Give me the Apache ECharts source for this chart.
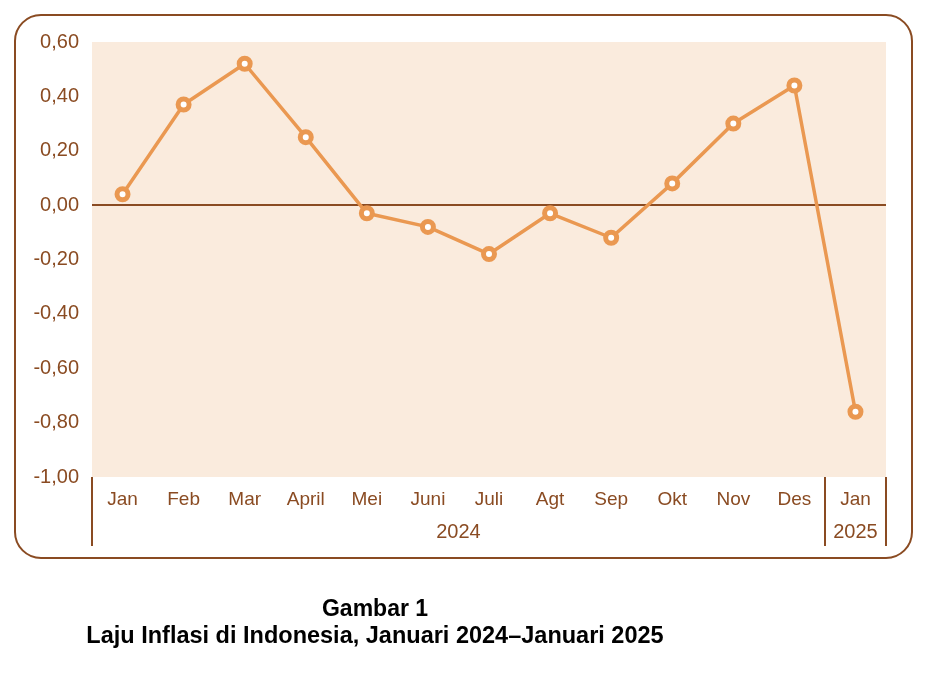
<!DOCTYPE html>
<html>
<head>
<meta charset="utf-8">
<script src="https://cdn.jsdelivr.net/npm/echarts@6/dist/echarts.min.js"></script>
<style>
html,body{margin:0;padding:0;background:#fff;}
#c{width:928px;height:674px;}
</style>
</head>
<body>
<div id="c"></div>
<script>
const categories = ['Jan','Feb','Mar','April','Mei','Juni','Juli','Agt','Sep','Okt','Nov','Des','Jan'];
const inflation = [0.04, 0.37, 0.52, 0.25, -0.03, -0.08, -0.18, -0.03, -0.12, 0.08, 0.30, 0.44, -0.76];
const yearLabels = ['2024', '2025'];
const yearCenters = [6, 12.5];
const yearBounds = [0, 12, 13];
const titleLines = ['Gambar 1', 'Laju Inflasi di Indonesia, Januari 2024\u2013Januari 2025'];

const BROWN = '#8A4B22';
const ORANGE = '#EA9851';
const font = '"Liberation Sans", Arial, sans-serif';

const chart = echarts.init(document.getElementById('c'), null, {renderer: 'canvas'});
chart.setOption({
  animation: false,
  backgroundColor: '#ffffff',
  grid: {
    left: 92, right: 42, top: 42, bottom: 197,
    show: true, backgroundColor: '#FAEBDD', borderWidth: 0
  },
  graphic: [
    {
      type: 'rect', z: -1,
      shape: {x: 15, y: 15, width: 897, height: 543, r: 26},
      style: {fill: 'none', stroke: BROWN, lineWidth: 2}
    },
    {
      type: 'text', x: 375, y: 610,
      style: {text: titleLines[0], font: 'bold 23px ' + font, fill: '#000', align: 'center', verticalAlign: 'middle'}
    },
    {
      type: 'text', x: 375, y: 637,
      style: {text: titleLines[1], font: 'bold 23.5px ' + font, fill: '#000', align: 'center', verticalAlign: 'middle'}
    }
  ],
  xAxis: [
    {
      type: 'category',
      data: categories,
      boundaryGap: true,
      axisLine: {show: false},
      axisTick: {show: false},
      splitLine: {show: false},
      axisLabel: {color: BROWN, fontSize: 19, fontFamily: font, margin: 13, interval: 0}
    },
    {
      type: 'value',
      min: 0, max: 13,
      position: 'bottom',
      axisLine: {show: false},
      splitLine: {show: false},
      axisTick: {show: true, customValues: yearBounds, length: 69, inside: false,
        lineStyle: {color: BROWN, width: 2}},
      axisLabel: {
        show: true, customValues: yearCenters, margin: 45,
        color: BROWN, fontSize: 20, fontFamily: font,
        formatter: function (v) { return v < 12 ? yearLabels[0] : yearLabels[1]; }
      }
    }
  ],
  yAxis: {
    type: 'value',
    min: -1, max: 0.6, interval: 0.2,
    axisLine: {show: false},
    axisTick: {show: false},
    splitLine: {show: false},
    axisLabel: {
      color: BROWN, fontSize: 20, fontFamily: font, margin: 13,
      formatter: function (v) { return v.toFixed(2).replace('.', ','); }
    }
  },
  series: [
    {
      type: 'line',
      data: inflation,
      xAxisIndex: 0,
      symbol: 'circle',
      symbolSize: 11,
      showAllSymbol: true,
      lineStyle: {color: ORANGE, width: 3.5},
      itemStyle: {color: '#ffffff', borderColor: ORANGE, borderWidth: 5},
      z: 5,
      markLine: {
        silent: true, symbol: 'none', label: {show: false},
        lineStyle: {color: BROWN, width: 2, type: 'solid'},
        data: [{yAxis: 0}],
        z: 1
      }
    }
  ]
});
</script>
</body>
</html>
